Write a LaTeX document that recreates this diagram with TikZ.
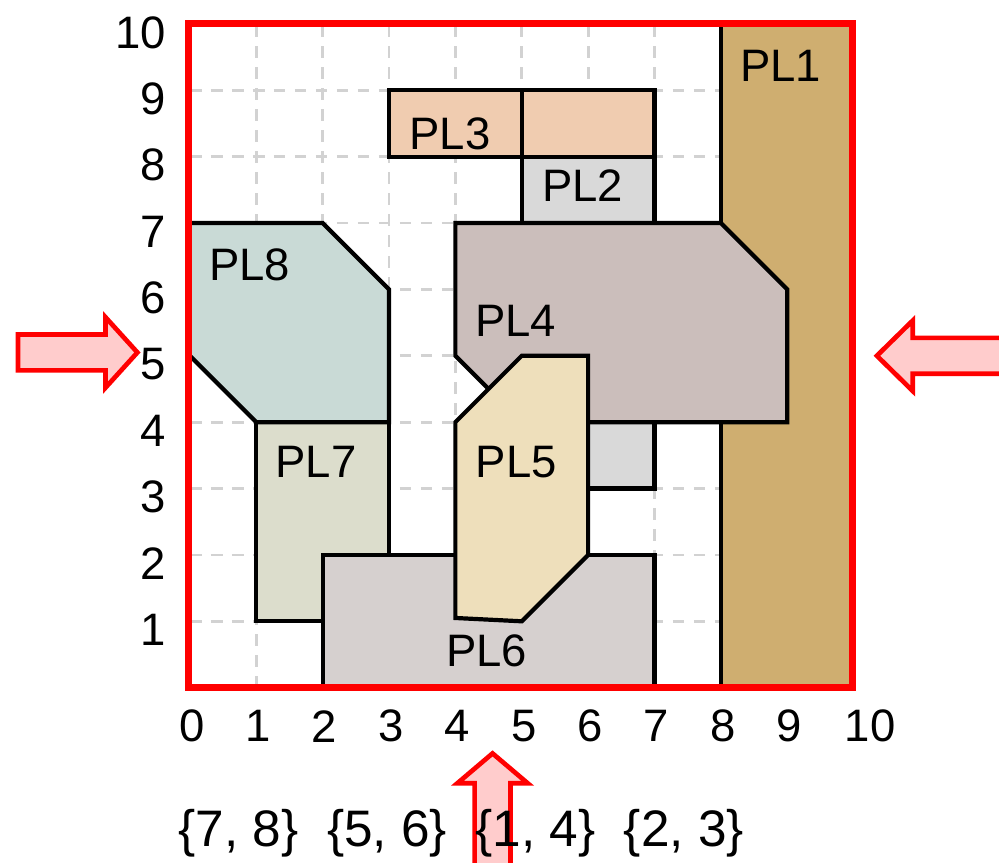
\documentclass[tikz,border=0pt]{standalone}
\usepackage{fontspec}
\setmainfont{Liberation Sans}
\definecolor{plone}{RGB}{207,174,112}
\definecolor{pltwo}{RGB}{217,217,217}
\definecolor{plthree}{RGB}{240,204,176}
\definecolor{plfour}{RGB}{203,190,187}
\definecolor{plfive}{RGB}{238,223,187}
\definecolor{plsix}{RGB}{214,208,207}
\definecolor{plseven}{RGB}{220,221,204}
\definecolor{pleight}{RGB}{201,218,214}
\definecolor{arrowfill}{RGB}{255,204,204}

\begin{document}
\begin{tikzpicture}[font=\fontsize{19.5}{23}\selectfont,
  block/.style={draw=black, line width=1.8pt, line join=miter},
  push/.style={draw=red, fill=arrowfill, line width=2pt, line join=miter},
  gridline/.style={gray!35, line width=1.2pt, dash pattern=on 5pt off 4pt}]
  \useasboundingbox (-2.86,-2.64) rectangle (12.19,10.36);

  % Draw grid
  \draw[gridline] (0,0) grid (10,10);

  % Draw blocks
  \filldraw[block, fill=plone] (8,0) rectangle (10,10);
  \filldraw[block, fill=pltwo] (5,3) rectangle (7,8);
  \filldraw[block, fill=plthree] (3,8) rectangle (5,9);
  \filldraw[block, fill=plthree] (5,8) rectangle (7,9);
  \filldraw[block, fill=plfour] (4,7) -- (8,7) -- (9,6) -- (9,4) -- (5,4) -- (4,5) -- cycle;
  \filldraw[block, fill=plseven] (1,1) rectangle (3,4);
  \filldraw[block, fill=plsix] (2,0) rectangle (7,2);
  \filldraw[block, fill=pleight] (0,7) -- (2,7) -- (3,6) -- (3,4) -- (1,4) -- (0,5) -- cycle;
  \filldraw[block, fill=plfive] (5,5) -- (6,5) -- (6,2) -- (5,1) -- (4,1.05) -- (4,4) -- cycle;

  % Label blocks
  \node (pl1) at (8.9,9.37) {PL1};
  \node (pl2) at (5.92,7.56) {PL2};
  \node (pl3) at (3.92,8.35) {PL3};
  \node (pl4) at (4.91,5.53) {PL4};
  \node (pl5) at (4.92,3.4) {PL5};
  \node (pl6) at (4.47,0.55) {PL6};
  \node (pl7) at (1.9,3.4) {PL7};
  \node (pl8) at (0.9,6.37) {PL8};

  % Draw frame
  \draw[red, line width=3pt] (-0.02,0) rectangle (9.98,10);

  % Axis numbers
  \foreach \i in {0,...,9} {
    \node (xl\i) at (\i+0.03,-0.58) {\i};
  }
  \node (xl10) at (10.25,-0.58) {10};
  \foreach \i in {1,...,10} {
    \node[anchor=east] (yl\i) at (-0.24,\i-0.13) {\i};
  }

  % Push arrows
  \draw[push] (-2.59,4.78) -- (-1.27,4.78) -- (-1.27,4.52) -- (-0.79,5.05)
    -- (-1.27,5.58) -- (-1.27,5.32) -- (-2.59,5.32) -- cycle;
  \draw[push] (12.5,4.73) -- (10.89,4.73) -- (10.89,4.47) -- (10.35,5.0)
    -- (10.89,5.53) -- (10.89,5.27) -- (12.5,5.27) -- cycle;
  \draw[push] (4.29,-2.9) -- (4.29,-1.44) -- (4.03,-1.44) -- (4.56,-0.99)
    -- (5.09,-1.44) -- (4.83,-1.44) -- (4.83,-2.9) -- cycle;

  % Groups
  \node[font=\fontsize{22}{26}\selectfont] (groups) at (4.09,-2.19)
    {\{7, 8\}\ \ \{5, 6\}\ \ \{1, 4\}\ \ \{2, 3\}};
\end{tikzpicture}
\end{document}
